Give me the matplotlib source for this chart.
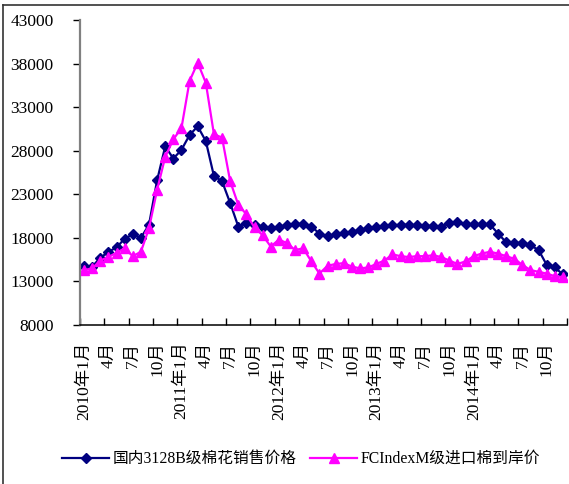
import matplotlib
matplotlib.use('Agg')
import matplotlib.pyplot as plt
from matplotlib.lines import Line2D

# monthly prices 2010-01 .. 2014-12 (yuan/ton)
domestic = [14800, 14700, 15700, 16400, 16900, 17900, 18400, 18000, 19500, 24600,
            28500, 27100, 28100, 29800, 30800, 29100, 25100, 24500, 22000, 19300,
            19700, 19500, 19300, 19100, 19200, 19500, 19600, 19600, 19300, 18500,
            18200, 18400, 18600, 18700, 18900, 19100, 19250, 19350, 19450, 19500,
            19500, 19450, 19400, 19350, 19300, 19700, 19800, 19600, 19550, 19550,
            19550, 18500, 17500, 17450, 17400, 17150, 16600, 14900, 14600, 13800]
imported = [14300, 14500, 15400, 15800, 16300, 16800, 15900, 16400, 19100, 23500,
            27300, 29300, 30600, 36000, 38100, 35800, 29900, 29500, 24500, 21800,
            20700, 19200, 18300, 17000, 17800, 17400, 16600, 16800, 15300, 13900,
            14800, 15000, 15100, 14700, 14500, 14600, 15000, 15400, 16100, 15900,
            15800, 15900, 15900, 16000, 15800, 15400, 15000, 15300, 15900, 16200,
            16400, 16200, 15900, 15600, 14900, 14300, 14100, 13900, 13600, 13500]
years = ['2010', '2011', '2012', '2013', '2014']
quarter_months = ['1月', '4月', '7月', '10月']
series_names = ['国内3128B级棉花销售价格', 'FCIndexM级进口棉到岸价']

x_labels = []
for y in years:
    for m in quarter_months:
        if m == '1月':
            x_labels.append(y + '年' + m)
        else:
            x_labels.append(m)

fonts = ['Liberation Serif', 'Noto Sans CJK SC']

fig = plt.figure(figsize=(5.69, 4.84), dpi=100)
ax = fig.add_axes([80/569, 1-325/484, 487/569, 305/484])

xs = range(len(domestic))
ax.plot(xs, domestic, color='#000080', lw=1.6, marker='D', ms=4.6,
        label=series_names[0])
ax.plot(xs, imported, color='#FF00FF', lw=1.6, marker='^', ms=6.8,
        label=series_names[1])

ax.set_xlim(-0.5, len(domestic) - 0.5)
ax.set_ylim(8000, 43000)
ax.set_yticks(range(8000, 43001, 5000))

# labels at every third month, tick marks on category borders
ax.set_xticks(range(0, len(domestic), 3))
ax.set_xticklabels(x_labels, rotation=90, family=fonts, fontsize=12.5)
ax.set_xticks([i - 0.5 for i in range(0, len(domestic) + 1, 3)], minor=True)
ax.tick_params(axis='x', which='major', length=0, pad=12)
ax.tick_params(axis='x', which='minor', direction='in', length=5, width=1, color='black')
ax.tick_params(axis='y', direction='out', length=5, width=1, pad=14, labelsize=12.5)
for t in ax.get_yticklabels():
    t.set_family('Liberation Serif')

ax.spines['top'].set_visible(False)
ax.spines['right'].set_visible(False)
ax.spines['left'].set_color('#808080')
ax.spines['left'].set_linewidth(1.6)
ax.spines['bottom'].set_linewidth(1.1)

leg = fig.legend(loc='center', bbox_to_anchor=(301/569, 1-459/484), ncol=2,
                 frameon=False, handlelength=3.0, handletextpad=0.2,
                 columnspacing=0.9, prop={'family': fonts, 'size': 11.3})

# chart border (top and left edges only are in the crop)
fig.add_artist(Line2D([3/569, 1], [1-5/484, 1-5/484], color='#333333', lw=1.2))
fig.add_artist(Line2D([3/569, 3/569], [0, 1-5/484], color='#333333', lw=1.2))

fig.savefig('out.png', dpi=100)
